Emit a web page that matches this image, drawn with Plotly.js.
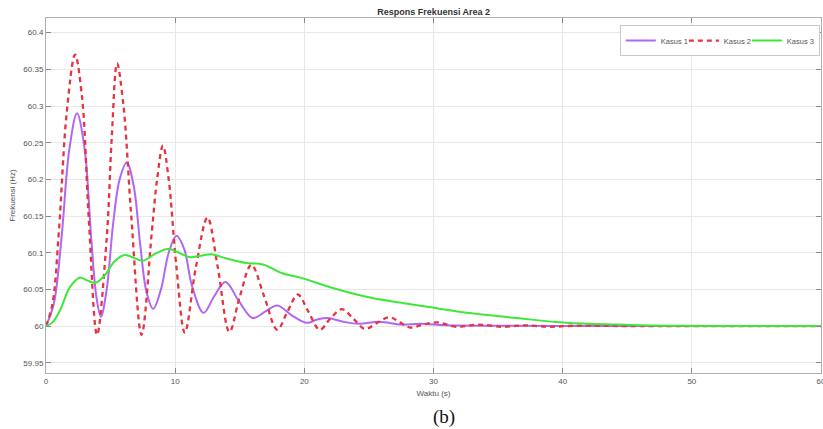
<!DOCTYPE html>
<html>
<head>
<meta charset="utf-8">
<script src="https://cdn.plot.ly/plotly-3.0.1.min.js"></script>
<style>
html,body{margin:0;padding:0;background:#fff;}
#chart{width:823px;height:429px;}
</style>
</head>
<body>
<div id="chart"></div>
<script>
// Kasus 1 (purple)
const t1 = [0, 0.6, 1.2, 1.8, 2.4, 3.0, 3.5, 3.9, 4.25, 4.7, 5.2, 5.7, 6.25, 6.8, 7.3, 7.8, 8.3, 8.9, 9.5, 10.1, 10.7, 11.3, 12.2, 13.0, 13.9, 14.9, 16.0, 17.0, 17.9, 19.0, 20.2, 21.0, 21.8, 23.0, 24.2, 25.8, 27.5, 29.0, 31.0, 35.0, 40.0, 50.0, 60.0];
const y1 = [60, 60.03, 60.12, 60.24, 60.29, 60.24, 60.12, 60.04, 60.0126, 60.05, 60.14, 60.2, 60.223, 60.19, 60.11, 60.045, 60.0235, 60.05, 60.1, 60.123, 60.105, 60.055, 60.018, 60.04, 60.06, 60.035, 60.011, 60.02, 60.028, 60.015, 60.0044, 60.009, 60.011, 60.006, 60.003, 60.006, 60.002, 60.003, 60.001, 60.0005, 60.0, 60.0, 60.0];

// Kasus 2 (red dashed)
const t2 = [0, 0.5, 1.0, 1.6, 2.25, 2.8, 3.3, 3.95, 4.7, 5.1, 5.5, 6.0, 6.6, 7.4, 8.2, 8.6, 9.05, 9.5, 10.1, 10.75, 11.6, 12.5, 13.3, 14.2, 15.0, 15.9, 16.9, 17.9, 18.7, 19.5, 20.3, 21.2, 22.0, 22.9, 23.8, 24.7, 25.6, 26.6, 27.4, 28.2, 29.2, 30.3, 31.8, 33.5, 35.3, 37.0, 39.0, 41.0, 45.0, 60.0];
const y2 = [60, 60.03, 60.13, 60.29, 60.37, 60.31, 60.15, 59.988, 60.12, 60.26, 60.358, 60.30, 60.15, 59.988, 60.13, 60.2, 60.246, 60.2, 60.08, 59.991, 60.08, 60.148, 60.08, 59.992, 60.04, 60.0835, 60.04, 59.995, 60.02, 60.043, 60.02, 59.995, 60.01, 60.023, 60.01, 59.996, 60.004, 60.012, 60.005, 59.998, 60.002, 60.005, 59.999, 60.002, 59.999, 60.001, 59.999, 60.0005, 60.0, 60.0];

// Kasus 3 (green)
const t3 = [0, 0.5, 1.1, 1.85, 2.6, 3.2, 3.8, 4.5, 5.3, 6.1, 6.8, 7.5, 8.5, 9.45, 10.3, 11.1, 12.0, 12.8, 14.0, 15.5, 16.8, 18.3, 19.7, 22.0, 24.8, 27.4, 30.0, 32.6, 36.4, 40.3, 44.2, 48.0, 52.0, 60.0];
const y3 = [60, 60.005, 60.022, 60.053, 60.066, 60.062, 60.059, 60.068, 60.088, 60.097, 60.093, 60.089, 60.099, 60.105, 60.1, 60.094, 60.096, 60.098, 60.092, 60.086, 60.084, 60.072, 60.066, 60.053, 60.040, 60.032, 60.025, 60.018, 60.011, 60.0045, 60.002, 60.0005, 60.0, 60.0];

const yTickVals = [59.95, 60, 60.05, 60.1, 60.15, 60.2, 60.25, 60.3, 60.35, 60.4];
const yTickText = ['59.95', '60', '60.05', '60.1', '60.15', '60.2', '60.25', '60.3', '60.35', '60.4'];
const xTickVals = [0, 10, 20, 30, 40, 50, 60];

const traces = [
  {x: t1, y: y1, name: 'Kasus 1', type: 'scatter', mode: 'lines', legendwidth: 18,
   line: {color: '#b266f2', width: 2, shape: 'spline', smoothing: 1}},
  {x: t2, y: y2, name: 'Kasus 2', type: 'scatter', mode: 'lines', legendwidth: 18,
   line: {color: '#e4343f', width: 2.3, dash: '5px,4px', shape: 'spline', smoothing: 1}},
  {x: t3, y: y3, name: 'Kasus 3', type: 'scatter', mode: 'lines', legendwidth: 27,
   line: {color: '#3ee83a', width: 2, shape: 'spline', smoothing: 1}}
];

const axisCommon = {
  showgrid: true, gridcolor: '#e8e8e8', gridwidth: 1,
  zeroline: false, showline: true, linecolor: '#b0b0b0', linewidth: 1,
  mirror: 'ticks', ticks: 'inside', ticklen: 5, tickcolor: '#8a8a8a',
  tickfont: {family: 'Liberation Sans, Arial, sans-serif', size: 8, color: '#555'}
};

const layout = {
  width: 823, height: 429,
  margin: {l: 46, r: 2, t: 18, b: 56},
  paper_bgcolor: '#fff', plot_bgcolor: '#fff',
  title: {text: '<b>Respons Frekuensi Area 2</b>', x: 0.527, xanchor: 'center', y: 0.972, yanchor: 'middle',
          font: {family: 'Liberation Sans, Arial, sans-serif', size: 9, color: '#333'}},
  xaxis: Object.assign({}, axisCommon, {
    range: [0, 60], tickvals: xTickVals, ticklabeloverflow: 'allow',
    title: {text: 'Waktu (s)', standoff: 5, font: {family: 'Liberation Sans, Arial, sans-serif', size: 8, color: '#555'}}
  }),
  yaxis: Object.assign({}, axisCommon, {
    range: [59.936, 60.42], tickvals: yTickVals, ticktext: yTickText,
    title: {text: 'Frekuensi (Hz)', standoff: 6, font: {family: 'Liberation Sans, Arial, sans-serif', size: 8, color: '#555'}}
  }),
  showlegend: true,
  legend: {orientation: 'h', x: 0.9985, xanchor: 'right', y: 0.98, yanchor: 'top',
           bgcolor: '#fff', bordercolor: '#c8c8c8', borderwidth: 1,
           font: {family: 'Liberation Sans, Arial, sans-serif', size: 7.5, color: '#555'},
           itemwidth: 30, entrywidthmode: 'pixels', tracegroupgap: 0},
  annotations: [
    {text: '(b)', xref: 'paper', yref: 'paper', x: 0.5135, y: -0.124, xanchor: 'center', yanchor: 'middle',
     showarrow: false, font: {family: 'Liberation Serif, Times New Roman, serif', size: 19, color: '#111'}}
  ]
};

Plotly.newPlot('chart', traces, layout, {displayModeBar: false, staticPlot: true});
</script>
</body>
</html>
